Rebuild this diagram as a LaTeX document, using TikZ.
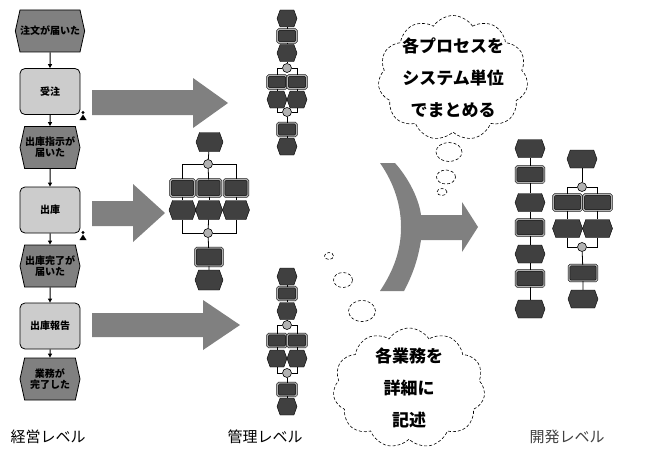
\documentclass[tikz,border=0pt]{standalone}
\usepackage{fontspec}
\newfontfamily\jp{Noto Sans CJK JP}
\usetikzlibrary{shapes.symbols,shapes.geometric,shapes.misc,arrows.meta}
\tikzset{
  bev/.style={signal, signal to=west and east, signal pointer angle=155, draw=black, line width=0.8pt,
    fill=black!50, minimum width=60pt, minimum height=42pt, inner sep=0pt, align=center,
    font=\jp\bfseries\fontsize{10}{11}\selectfont},
  bfn/.style={rectangle, rounded corners=5pt, draw=black, line width=0.8pt, fill=black!20,
    minimum width=60pt, minimum height=46pt, inner sep=0pt, align=center,
    font=\jp\bfseries\fontsize{10}{11}\selectfont},
  conn/.style={line width=1pt, -{Triangle[length=4pt,width=4pt]}},
  mev/.style={signal, signal to=west and east, signal pointer angle=140, draw=black, fill=black!75,
    minimum width=20pt, minimum height=17pt, inner sep=0pt},
  mfn/.style={rectangle, rounded corners=1.5pt, draw=black, double=black!30, double distance=1.4pt,
    fill=black!75, minimum width=19pt, minimum height=13pt, inner sep=0pt},
  mcon/.style={circle, draw=black, fill=black!30, line width=0.6pt, minimum size=9pt, inner sep=0pt},
  mline/.style={line width=0.8pt},
  bigarrow/.style={fill=black!50},
  thought/.style={draw=black, densely dashed, line width=0.6pt},
  cloudtext/.style={font=\jp\bfseries\fontsize{17}{32}\selectfont, align=center},
  level/.style={font=\jp\fontsize{15}{16}\selectfont}
}
\begin{document}
\begin{tikzpicture}[x=1pt,y=-1pt]
\useasboundingbox (0,0) rectangle (647,452);
\fill[white] (0,0) rectangle (647,452);

% ---------- left column (management level) ----------
\node[bev] (e1) at (50,31) {注文が届いた};
\node[bfn] (f1) at (50,91.5) {受注};
\node[bev] (e2) at (50,147.5) {出庫指示が\\届いた};
\node[bfn] (f2) at (50,210) {出庫};
\node[bev] (e3) at (50,266) {出庫完了が\\届いた};
\node[bfn] (f3) at (50,326) {出庫報告};
\node[bev] (e4) at (50,379) {業務が\\完了した};
\draw[conn] (e1) -- (f1);
\draw[conn] (f1) -- (e2);
\draw[conn] (e2) -- (f2);
\draw[conn] (f2) -- (e3);
\draw[conn] (e3) -- (f3);
\draw[conn] (f3) -- (e4);
% small person icons
\fill (83,112.5) circle (1.6pt);
\fill (79.5,120) -- (83,114.5) -- (86.5,120) -- cycle;
\fill (83,232.5) circle (1.6pt);
\fill (79.5,240) -- (83,234.5) -- (86.5,240) -- cycle;

% ---------- big arrows ----------
\fill[bigarrow] (92,90) -- (193,90) -- (193,78) -- (228,103) -- (193,128) -- (193,115) -- (92,115) -- cycle;
\fill[bigarrow] (92,201) -- (133,201) -- (133,184) -- (165,213) -- (133,242) -- (133,226) -- (92,226) -- cycle;
\fill[bigarrow] (92,313) -- (203,313) -- (203,300) -- (240,325) -- (203,350) -- (203,337) -- (92,337) -- cycle;

% ---------- middle: top column ----------
\node[mev] (t1) at (287,18.5) {};
\node[mfn] (t2) at (287,36) {};
\node[mev] (t3) at (287,53) {};
\node[mcon] (t4) at (287,68) {};
\node[mfn] (t5a) at (277,82) {};
\node[mfn] (t5b) at (297,82) {};
\node[mev] (t6a) at (277,99.5) {};
\node[mev] (t6b) at (297,99.5) {};
\node[mcon] (t7) at (287,112) {};
\node[mfn] (t8) at (287,129.5) {};
\node[mev] (t9) at (287,146.5) {};
\draw[mline] (t1) -- (t2) -- (t3) -- (t4);
\draw[mline] (t4) -| (t5a);
\draw[mline] (t4) -| (t5b);
\draw[mline] (t5a) -- (t6a);
\draw[mline] (t5b) -- (t6b);
\draw[mline] (t6a) |- (t7);
\draw[mline] (t6b) |- (t7);
\draw[mline] (t7) -- (t8) -- (t9);

% ---------- middle: centre cluster ----------
\begin{scope}[mev/.append style={minimum width=27pt, minimum height=19pt},
              mfn/.append style={minimum width=24pt, minimum height=17pt}]
\node[mev] (m1) at (209.5,142) {};
\node[mcon] (m2) at (208,164) {};
\node[mfn] (m3a) at (182.5,188) {};
\node[mfn] (m3b) at (209,188) {};
\node[mfn] (m3c) at (236,188) {};
\node[mev] (m4a) at (182.5,210) {};
\node[mev] (m4b) at (209,210) {};
\node[mev] (m4c) at (236,210) {};
\node[mcon] (m5) at (208,233) {};
\node[mfn, minimum width=27pt, minimum height=18pt] (m6) at (209,257) {};
\node[mev, minimum width=28pt, minimum height=20pt] (m7) at (209,280) {};
\end{scope}
\draw[mline] (m1) -- (m2);
\draw[mline] (m2) -| (m3a);
\draw[mline] (m2) -| (m3c);
\draw[mline] (m2) -- (m3b);
\draw[mline] (m3a) -- (m4a);
\draw[mline] (m3b) -- (m4b);
\draw[mline] (m3c) -- (m4c);
\draw[mline] (m4a) |- (m5);
\draw[mline] (m4c) |- (m5);
\draw[mline] (m4b) -- (m5);
\draw[mline] (m5) -- (m6) -- (m7);

% ---------- middle: bottom column ----------
\node[mev] (u1) at (287,276.5) {};
\node[mfn] (u2) at (287,293.5) {};
\node[mev] (u3) at (287,311) {};
\node[mcon] (u4) at (287,325) {};
\node[mfn] (u5a) at (277,340.5) {};
\node[mfn] (u5b) at (297,340.5) {};
\node[mev] (u6a) at (277,358.5) {};
\node[mev] (u6b) at (297,358.5) {};
\node[mcon] (u7) at (287,373) {};
\node[mfn] (u8) at (287,389.5) {};
\node[mev] (u9) at (287,406.5) {};
\draw[mline] (u1) -- (u2) -- (u3) -- (u4);
\draw[mline] (u4) -| (u5a);
\draw[mline] (u4) -| (u5b);
\draw[mline] (u5a) -- (u6a);
\draw[mline] (u5b) -- (u6b);
\draw[mline] (u6a) |- (u7);
\draw[mline] (u6b) |- (u7);
\draw[mline] (u7) -- (u8) -- (u9);

% ---------- combining arrow ----------
\fill[bigarrow] (380,163) -- (395,163) .. controls (410,180) and (419,200) .. (421,215)
  -- (462,215) -- (462,202) -- (478,227) -- (462,252) -- (462,240) -- (421,240)
  .. controls (418,260) and (412,276) .. (404,291) -- (380,291)
  .. controls (394,270) and (401,250) .. (401,227)
  .. controls (401,205) and (394,183) .. (380,163) -- cycle;

% ---------- thought clouds ----------
\node[cloud, cloud puffs=11, cloud puff arc=115, aspect=1.2, thought,
      minimum width=150pt, minimum height=125pt, inner sep=0pt] (c1) at (453,78) {};
\node[cloudtext] (c1t) at (c1.center) {各プロセスを\\システム単位\\でまとめる};
\node[ellipse, thought, minimum width=26pt, minimum height=19pt, inner sep=0pt] (b1) at (449,152) {};
\node[ellipse, thought, minimum width=19pt, minimum height=14pt, inner sep=0pt] (b2) at (446,177) {};
\node[ellipse, thought, minimum width=10pt, minimum height=7pt, inner sep=0pt] (b3) at (442,192) {};

\node[cloud, cloud puffs=11, cloud puff arc=115, aspect=1.25, thought,
      minimum width=152pt, minimum height=120pt, inner sep=0pt] (c2) at (409,388) {};
\node[cloudtext] (c2t) at (c2.center) {各業務を\\詳細に\\記述};
\node[ellipse, thought, minimum width=27pt, minimum height=21pt, inner sep=0pt] (d1) at (362,311) {};
\node[ellipse, thought, minimum width=19pt, minimum height=15pt, inner sep=0pt] (d2) at (343,280) {};
\node[ellipse, thought, minimum width=9pt, minimum height=7pt, inner sep=0pt] (d3) at (329,256) {};

% ---------- right cluster (development level) ----------
\begin{scope}[mev/.append style={minimum width=30pt, minimum height=18pt},
              mfn/.append style={minimum width=28pt, minimum height=16pt}]
\node[mev] (r1) at (530,148.5) {};
\node[mfn] (r2) at (530,174.5) {};
\node[mev] (r3) at (530,202.5) {};
\node[mfn] (r4) at (530,227.5) {};
\node[mev] (r5) at (530,254) {};
\node[mfn] (r6) at (530,278.5) {};
\node[mev] (r7) at (530,309) {};
\node[mev] (s1) at (582,159) {};
\node[mcon] (s2) at (582,187) {};
\node[mfn] (s3a) at (567.5,202.5) {};
\node[mfn] (s3b) at (597.5,202.5) {};
\node[mev] (s4a) at (567.5,228.5) {};
\node[mev] (s4b) at (597.5,228.5) {};
\node[mcon] (s5) at (582,247) {};
\node[mfn] (s6) at (583,273) {};
\node[mev] (s7) at (583,299) {};
\end{scope}
\draw[mline] (r1) -- (r2) -- (r3) -- (r4) -- (r5) -- (r6) -- (r7);
\draw[mline] (s1) -- (s2);
\draw[mline] (s2) -| (s3a);
\draw[mline] (s2) -| (s3b);
\draw[mline] (s3a) -- (s4a);
\draw[mline] (s3b) -- (s4b);
\draw[mline] (s4a) |- (s5);
\draw[mline] (s4b) |- (s5);
\draw[mline] (s5) -- (s6) -- (s7);

% ---------- level labels ----------
\node[level] (l1) at (48,437) {経営レベル};
\node[level] (l2) at (265,437) {管理レベル};
\node[level, text=black!75] (l3) at (567,437) {開発レベル};
\end{tikzpicture}
\end{document}
